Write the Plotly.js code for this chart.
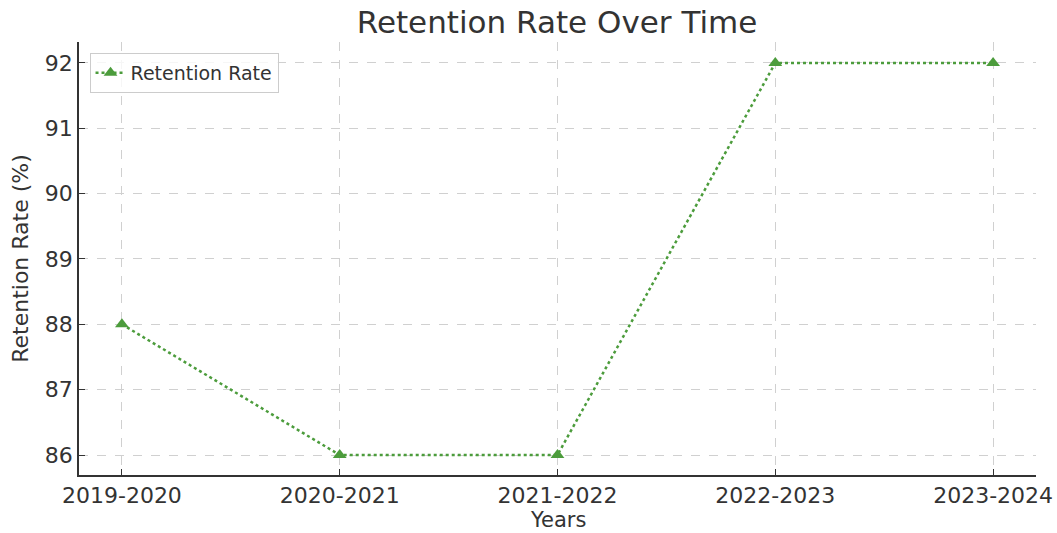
<!DOCTYPE html>
<html>
<head>
<meta charset="utf-8">
<script src="https://cdn.plot.ly/plotly-3.0.1.min.js"></script>
<style>html,body{margin:0;padding:0;background:#fff;}#chart{width:1057px;height:533px;}</style>
</head>
<body>
<div id="chart"></div>
<script>
const years = ["2019-2020", "2020-2021", "2021-2022", "2022-2023", "2023-2024"];
const retentionRate = [88, 86, 86, 92, 92];
const yTicks = [86, 87, 88, 89, 90, 91, 92];

const green = "#4c9c3c";
const trace = {
  x: [0, 1, 2, 3, 4],
  y: retentionRate,
  type: "scatter",
  mode: "lines+markers",
  name: "Retention Rate",
  line: {color: green, width: 2.5, dash: "dot"},
  marker: {symbol: "triangle-up", size: 12, color: green}
};
const layout = {
  width: 1057, height: 533,
  margin: {l: 79, r: 21, t: 42, b: 58},
  paper_bgcolor: "#fff", plot_bgcolor: "#fff",
  font: {family: "DejaVu Sans", color: "#333"},
  title: {text: "Retention Rate Over Time", font: {size: 31, color: "#333"}, x: 0.527, xanchor: "center", yref: "container", y: 0.958, yanchor: "middle"},
  showlegend: true,
  legend: {x: 0.011, y: 0.975, xanchor: "left", yanchor: "top", bgcolor: "rgba(255,255,255,0.8)", bordercolor: "#ccc", borderwidth: 1, font: {size: 19, color: "#333"}},
  xaxis: {
    range: [-0.197, 4.197],
    tickvals: [0, 1, 2, 3, 4], ticktext: years,
    showgrid: true, gridcolor: "#d0d0d0", griddash: "dash", gridwidth: 1,
    showline: true, linecolor: "#333", linewidth: 1.5, mirror: false,
    ticks: "inside", ticklen: 6, tickcolor: "#333",
    tickfont: {size: 22, color: "#333"},
    zeroline: false,
    automargin: false
  },
  yaxis: {
    range: [85.694, 92.32],
    tickvals: yTicks,
    showgrid: true, gridcolor: "#d0d0d0", griddash: "dash", gridwidth: 1,
    showline: true, linecolor: "#333", linewidth: 1.5,
    ticks: "inside", ticklen: 6, tickcolor: "#333",
    tickfont: {size: 22, color: "#333"},
    zeroline: false,
    automargin: false,
    title: {text: "Retention Rate (%)", font: {size: 22, color: "#333"}, standoff: 10}
  },
  annotations: [{
    text: "Years", xref: "paper", yref: "paper", x: 0.5, y: -0.1035,
    xanchor: "center", yanchor: "middle", showarrow: false,
    font: {size: 21, color: "#333"}
  }]
};
Plotly.newPlot("chart", [trace], layout, {displayModeBar: false});
</script>
</body>
</html>
